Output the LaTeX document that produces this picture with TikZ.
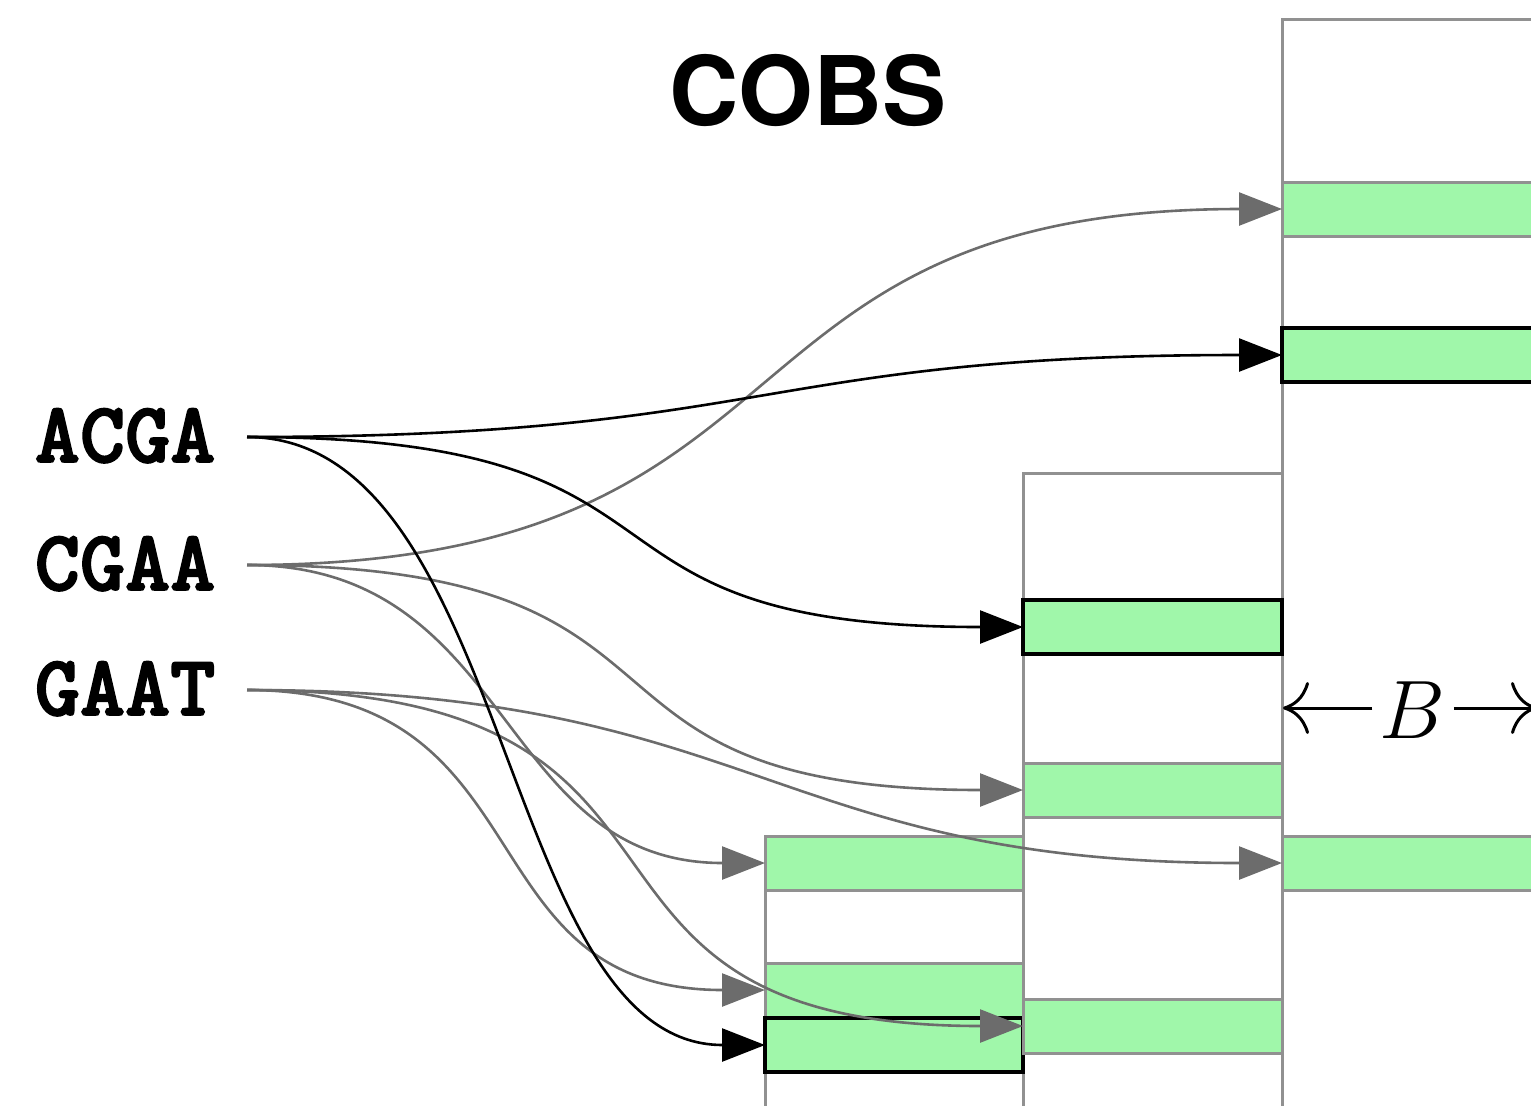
\documentclass[tikz,border=0pt]{standalone}
\usepackage{fontspec}
\usetikzlibrary{arrows.meta}
\newfontfamily\titlefont{TeX Gyre Heros}
\definecolor{slotgreen}{RGB}{160,247,170}
\definecolor{boxgray}{RGB}{145,145,145}
\definecolor{arrgray}{RGB}{108,108,108}
\newcommand{\heavytext}[1]{\special{pdf:literal direct 2 Tr 0.45 w}#1\special{pdf:literal direct 0 Tr}}
\tikzset{
  colbox/.style={draw=boxgray, line width=0.75pt, fill=white},
  slot/.style={draw=boxgray, line width=0.75pt, fill=slotgreen, inner sep=0, outer sep=0, minimum height=13.5pt, anchor=north west},
  hitslot/.style={draw=black, line width=0.875pt, fill=slotgreen, inner sep=0, outer sep=0, minimum height=13.5pt, anchor=north west},
  kmer/.style={font=\fontsize{21.5}{23}\selectfont\ttfamily\bfseries, anchor=base west, inner sep=0},
  blackarrow/.style={draw=black, line width=0.65pt, -{Triangle[length=10.75pt,width=8.25pt]}},
  grayarrow/.style={draw=arrgray, line width=0.65pt, -{Triangle[length=10.75pt,width=8.25pt]}},
  barrow/.style={draw=black, line width=0.75pt, -{Computer Modern Rightarrow[length=6.5pt,width=13pt]}}
}
\begin{document}
\begin{tikzpicture}[x=0.25pt,y=-0.25pt]
\useasboundingbox (0,0) rectangle (1531,1105);
\clip (0,0) rectangle (1531,1105);
% title
\node[font=\titlefont\bfseries\fontsize{24}{26}\selectfont] (title) at (808,90) {COBS};
% columns
\draw[colbox] (765,836) rectangle (1023,1130);
\draw[colbox] (1023,473) rectangle (1282,1130);
\draw[colbox] (1282,19) rectangle (1600,1130);
% slots column 1
\node[slot, minimum width=64.5pt] (c1s1) at (765,836) {};
\node[slot, minimum width=64.5pt] (c1s2) at (765,963) {};
\node[hitslot, minimum width=64.5pt] (c1s3) at (765,1018) {};
% slots column 2
\node[hitslot, minimum width=64.75pt] (c2s1) at (1023,600) {};
\node[slot, minimum width=64.75pt] (c2s2) at (1023,763) {};
\node[slot, minimum width=64.75pt] (c2s3) at (1023,999) {};
% slots column 3
\node[slot, minimum width=80pt] (c3s1) at (1282,182) {};
\node[hitslot, minimum width=80pt] (c3s2) at (1282,328) {};
\node[slot, minimum width=80pt] (c3s3) at (1282,836) {};
% k-mers
\node[kmer] (acga) at (34,462) {\heavytext{ACGA}};
\node[kmer] (cgaa) at (34,590) {\heavytext{CGAA}};
\node[kmer] (gaat) at (34,715) {\heavytext{GAAT}};
\coordinate (acgaout) at (247,437);
\coordinate (cgaaout) at (247,565);
\coordinate (gaatout) at (247,690);
% B label
\node[font=\fontsize{22}{23}\selectfont, inner sep=0] (blab) at (1412,710) {$B$};
\coordinate (bleft) at (1283,708);
\coordinate (bright) at (1537,708);
\draw[barrow] (blab.west) ++(-6,-2) -- (bleft);
\draw[barrow] (blab.east) ++(8,-2) -- (bright);
% arrows from CGAA
\draw[grayarrow] (cgaaout) to[out=0,in=180,looseness=1.38] (c3s1.west);
\draw[grayarrow] (cgaaout) to[out=0,in=180,looseness=1.55] (c2s2.west);
\draw[grayarrow] (cgaaout) to[out=0,in=180,looseness=1.15] (c1s1.west);
% arrows from GAAT
\draw[grayarrow] (gaatout) to[out=0,in=180,looseness=1.25] (c3s3.west);
\draw[grayarrow] (gaatout) to[out=0,in=180,looseness=1.55] (c2s3.west);
\draw[grayarrow] (gaatout) to[out=0,in=180,looseness=1.3] (c1s2.west);
% arrows from ACGA
\draw[blackarrow] (acgaout) to[out=0,in=180,looseness=1.3] (c3s2.west);
\draw[blackarrow] (acgaout) to[out=0,in=180,looseness=1.55] (c2s1.west);
\draw[blackarrow] (acgaout) to[out=0,in=180,looseness=0.85] (c1s3.west);
\end{tikzpicture}
\end{document}
